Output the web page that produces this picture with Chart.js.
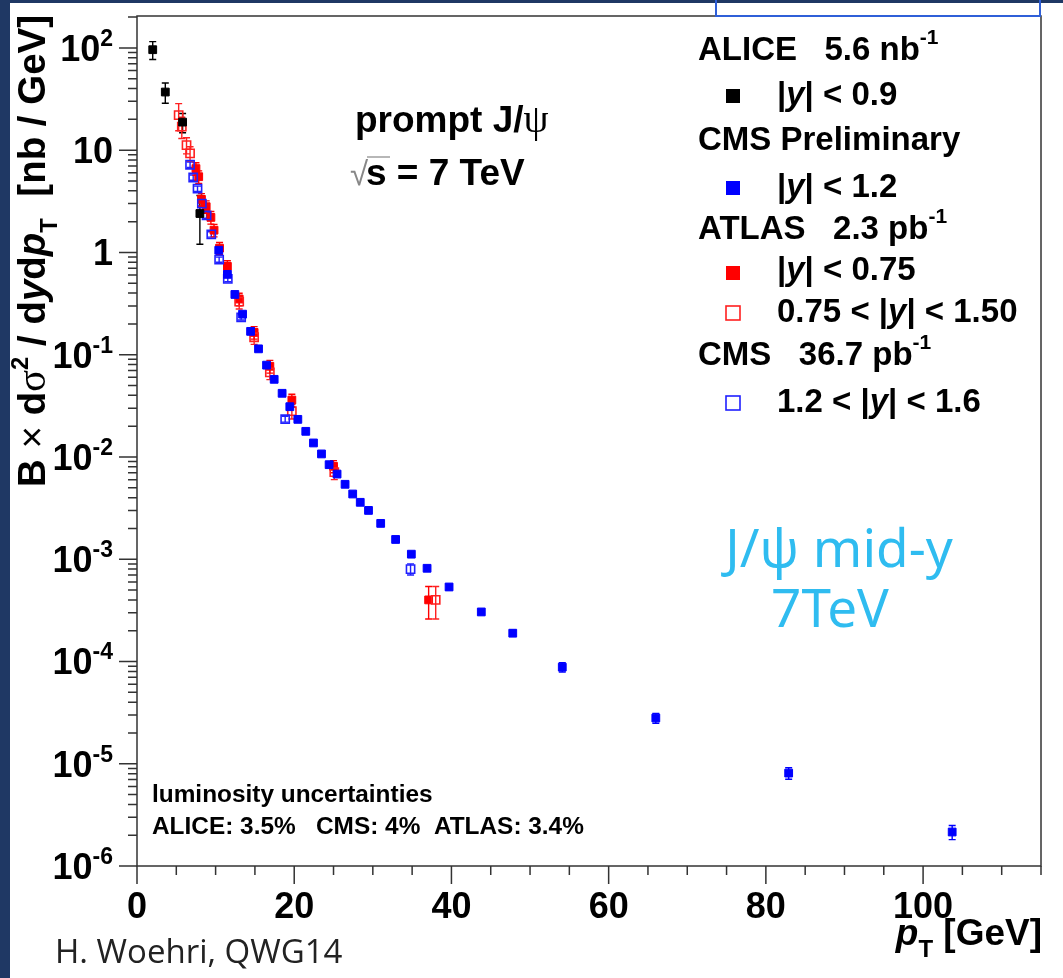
<!DOCTYPE html>
<html>
<head>
<meta charset="utf-8">
<script src="https://cdn.jsdelivr.net/npm/chart.js@4.4.1/dist/chart.umd.min.js"></script>
<style>
  html, body { margin: 0; padding: 0; background: #fff; }
  canvas { display: block; }
</style>
</head>
<body>
<canvas id="jpsiChart" width="1063" height="978"></canvas>
<script>
// ALICE 5.6 nb-1, |y| < 0.9
const alicePt = [2.0, 3.6, 5.8, 8.0];
const aliceVal = [96, 37, 18.8, 2.4];
const aliceErr = [19, 8.3, 4.0, 1.2];

// CMS Preliminary, |y| < 1.2
const cmsPrelimPt = [10.4, 11.5, 12.45, 13.43, 14.45, 15.46, 16.48, 17.45, 18.46, 19.44,
  20.46, 21.47, 22.45, 23.47, 24.44, 25.45, 26.47, 27.44, 28.4, 29.45,
  31.0, 32.9, 34.9, 36.9, 39.7, 43.8, 47.8, 54.1, 66.0, 82.9, 103.7];
const cmsPrelimVal = [1.05, 0.61, 0.388, 0.249, 0.169, 0.114, 0.079, 0.0574, 0.0419, 0.031,
  0.0233, 0.0178, 0.0137, 0.0107, 0.0084, 0.0068, 0.0054, 0.00434, 0.0036, 0.0030,
  0.00224, 0.00156, 0.00112, 0.000815, 0.000535, 0.000305, 0.000189, 8.8e-5, 2.8e-5, 8.1e-6, 2.15e-6];
const cmsPrelimErr = [0.042, 0.024, 0.016, 0.010, 0.0068, 0.0046, 0.0032, 0.0023, 0.0017, 0.0012,
  0.0009, 0.0007, 0.00055, 0.00043, 0.00034, 0.00027, 0.00022, 0.00017, 0.00014, 0.00012,
  0.00011, 0.00008, 0.000056, 0.00004, 0.000032, 0.000018, 0.000013, 0.9e-5, 0.31e-5, 1.05e-6, 0.34e-6];

// ATLAS 2.3 pb-1, |y| < 0.75
const atlasCentralPt = [7.5, 7.85, 8.2, 8.8, 9.4, 9.8, 10.5, 11.5, 13.0, 14.9, 16.9, 19.7, 25.0, 37.1];
const atlasCentralVal = [6.6, 5.5, 3.3, 2.8, 2.2, 1.65, 1.1, 0.73, 0.35, 0.165, 0.077, 0.036, 0.0081, 0.0004];
const atlasCentralErr = [0.92, 0.77, 0.46, 0.39, 0.31, 0.23, 0.15, 0.10, 0.049, 0.023, 0.011, 0.005, 0.0011, 0.00014];

// ATLAS 2.3 pb-1, 0.75 < |y| < 1.50
const atlasFwdPt = [5.3, 5.7, 6.3, 6.75, 13.0, 14.9, 16.9, 19.7, 25.1, 38.0];
const atlasFwdVal = [22, 17, 11.2, 9.3, 0.33, 0.148, 0.067, 0.028, 0.0071, 0.0004];
const atlasFwdErr = [6.5, 4.0, 2.0, 1.5, 0.05, 0.022, 0.01, 0.0045, 0.0011, 0.00014];

// CMS 36.7 pb-1, 1.2 < |y| < 1.6
const cmsFwdPt = [6.75, 7.15, 7.7, 8.25, 8.85, 9.45, 10.45, 11.55, 13.25, 18.85, 34.8];
const cmsFwdVal = [7.2, 5.4, 4.2, 3.0, 2.3, 1.5, 0.85, 0.55, 0.232, 0.0234, 0.0008];
const cmsFwdErr = [0.43, 0.32, 0.25, 0.18, 0.14, 0.09, 0.05, 0.033, 0.014, 0.0015, 0.0001];

const xTickLabels = [0, 20, 40, 60, 80, 100];
const yDecades = [-6, -5, -4, -3, -2, -1, 0, 1, 2];

const HV = '"Liberation Sans", Arial, sans-serif';
const B = (s) => `bold ${s}px ${HV}`;
const BI = (s) => `italic bold ${s}px ${HV}`;
const N = (s) => `${s}px ${HV}`;
const GR = (s) => `${s}px "Liberation Serif", serif`;

function pts(xs, ys) { return xs.map((v, i) => ({ x: v, y: ys[i] })); }

// draws a run of [text, font, dy, color] pieces
function rich(ctx, parts, x, y, align) {
  let w = 0;
  parts.forEach(p => { ctx.font = p[1]; w += ctx.measureText(p[0]).width; });
  let cx = align === 'right' ? x - w : align === 'center' ? x - w / 2 : x;
  parts.forEach(p => {
    ctx.font = p[1];
    if (p[3]) ctx.fillStyle = p[3];
    ctx.fillText(p[0], cx, y + (p[2] || 0));
    cx += ctx.measureText(p[0]).width;
  });
  return w;
}

function yLabel(s) { return [['|', B(s)], ['y', BI(s)], ['|', B(s)]]; }

const errorBars = {
  id: 'errorBars',
  beforeDatasetsDraw(chart) {
    const { ctx, chartArea: a, scales: { x, y } } = chart;
    ctx.save();
    ctx.beginPath();
    ctx.rect(a.left, a.top, a.right - a.left, a.bottom - a.top);
    ctx.clip();
    chart.data.datasets.forEach(ds => {
      ctx.strokeStyle = ds.borderColor;
      ctx.lineWidth = 1.4;
      ds.data.forEach((p, i) => {
        const e = ds.errs[i];
        const px = x.getPixelForValue(p.x);
        const top = y.getPixelForValue(p.y + e);
        const bot = y.getPixelForValue(Math.max(p.y - e, 1e-9));
        ctx.beginPath();
        ctx.moveTo(px, top); ctx.lineTo(px, bot);
        ctx.moveTo(px - 3.5, top); ctx.lineTo(px + 3.5, top);
        ctx.moveTo(px - 3.5, bot); ctx.lineTo(px + 3.5, bot);
        ctx.stroke();
      });
    });
    ctx.restore();
  }
};

function legendMark(ctx, cx, cy, color, open) {
  const s = 14;
  if (open) {
    ctx.strokeStyle = color; ctx.lineWidth = 1.6;
    ctx.strokeRect(cx - s / 2, cy - s / 2, s, s);
  } else {
    ctx.fillStyle = color;
    ctx.fillRect(cx - s / 2, cy - s / 2, s, s);
  }
}

const rootFrame = {
  id: 'rootFrame',
  afterDraw(chart) {
    const { ctx, chartArea: a, scales: { x, y } } = chart;
    ctx.save();
    ctx.textBaseline = 'alphabetic';

    // frame + ticks
    ctx.strokeStyle = '#333';
    ctx.lineWidth = 1.5;
    ctx.strokeRect(a.left, a.top, a.right - a.left, a.bottom - a.top);
    ctx.beginPath();
    for (let v = 0; v <= 115; v += 5) {
      const px = x.getPixelForValue(v);
      ctx.moveTo(px, a.bottom);
      ctx.lineTo(px, a.bottom + (v % 20 === 0 ? 18 : 9));
    }
    yDecades.forEach(e => {
      for (let m = 1; m <= 9; m++) {
        const v = m * Math.pow(10, e);
        if (v > y.max) break;
        const py = y.getPixelForValue(v);
        ctx.moveTo(a.left, py);
        ctx.lineTo(a.left - (m === 1 ? 18 : 9), py);
      }
    });
    ctx.stroke();

    // tick labels
    ctx.fillStyle = '#000';
    yDecades.forEach(e => {
      const py = y.getPixelForValue(Math.pow(10, e));
      let parts;
      if (e === 0) parts = [['1', B(36)]];
      else if (e === 1) parts = [['10', B(36)]];
      else parts = [['10', B(36)], [String(e), B(23), -15]];
      rich(ctx, parts, 113, py + 13, 'right');
    });
    ctx.textAlign = 'center';
    ctx.font = B(36);
    xTickLabels.forEach(v => ctx.fillText(String(v), x.getPixelForValue(v), 918));
    ctx.textAlign = 'left';

    // axis titles
    rich(ctx, [['p', BI(37)], ['T', B(24), 12], [' [GeV]', B(37)]], 1042, 945, 'right');
    const ts = 38.5;
    const yTitle = [['B', B(ts)], [' \u00d7 ', N(ts)], ['d', B(ts)], ['\u03c3', GR(ts + 2)], ['2', B(ts * 0.62), -ts * 0.45],
      [' / d', B(ts)], ['y', BI(ts)], ['d', B(ts)], ['p', BI(ts)], ['T', B(ts * 0.62), ts * 0.3],
      ['  [nb / GeV]', B(ts)]];
    ctx.save();
    ctx.translate(45, 487);
    ctx.rotate(-Math.PI / 2);
    rich(ctx, yTitle, 0, 0, 'left');
    ctx.restore();

    // text in the pad
    rich(ctx, [['prompt J/', B(37)], ['\u03c8', GR(40)]], 355, 132, 'left');
    ctx.fillStyle = '#888';
    ctx.font = N(33);
    ctx.fillText('\u221a', 350, 185);
    ctx.strokeStyle = '#888'; ctx.lineWidth = 1.2;
    ctx.beginPath(); ctx.moveTo(367, 157); ctx.lineTo(390, 157); ctx.stroke();
    ctx.fillStyle = '#000';
    ctx.font = B(37);
    ctx.fillText('s = 7 TeV', 366, 185);

    ctx.font = B(24.4);
    ctx.fillText('luminosity uncertainties', 152, 802);
    ctx.fillText('ALICE: 3.5%   CMS: 4%  ATLAS: 3.4%', 152, 834);

    // legend
    const lx = 698, mx = 733, tx = 777, fs = 33;
    rich(ctx, [['ALICE   5.6 nb', B(fs)], ['-1', B(21), -16]], lx, 60, 'left');
    legendMark(ctx, mx, 96, '#000', false);
    rich(ctx, yLabel(fs).concat([[' < 0.9', B(fs)]]), tx, 105, 'left');
    rich(ctx, [['CMS Preliminary', B(fs)]], lx, 150, 'left');
    legendMark(ctx, mx, 188, '#0000ff', false);
    ctx.fillStyle = '#000';
    rich(ctx, yLabel(fs).concat([[' < 1.2', B(fs)]]), tx, 197, 'left');
    rich(ctx, [['ATLAS   2.3 pb', B(fs)], ['-1', B(21), -16]], lx, 239, 'left');
    legendMark(ctx, mx, 273, '#ff0000', false);
    ctx.fillStyle = '#000';
    rich(ctx, yLabel(fs).concat([[' < 0.75', B(fs)]]), tx, 280, 'left');
    legendMark(ctx, mx, 313, '#ff2020', true);
    rich(ctx, [['0.75 < ', B(fs)]].concat(yLabel(fs), [[' < 1.50', B(fs)]]), tx, 322, 'left');
    rich(ctx, [['CMS   36.7 pb', B(fs)], ['-1', B(21), -16]], lx, 365, 'left');
    legendMark(ctx, mx, 403, '#2020ff', true);
    rich(ctx, [['1.2 < ', B(fs)]].concat(yLabel(fs), [[' < 1.6', B(fs)]]), tx, 412, 'left');

    // slide decoration
    ctx.fillStyle = '#1f3864';
    ctx.fillRect(0, 0, 10, 978);
    ctx.fillRect(0, 0, 1063, 3);
    ctx.strokeStyle = '#2f5fd8'; ctx.lineWidth = 2;
    ctx.strokeRect(716, -2, 324, 18);

    ctx.fillStyle = '#2fbcf0';
    ctx.font = '53px "Noto Sans", sans-serif';
    ctx.textAlign = 'center';
    ctx.fillText('J/\u03c8 mid-y', 839, 567);
    ctx.fillText('7TeV', 830, 627);
    ctx.textAlign = 'left';
    ctx.fillStyle = '#222';
    ctx.font = '33px "Open Sans", sans-serif';
    ctx.fillText('H. Woehri, QWG14', 55, 963);
    ctx.restore();
  }
};

const filledOpts = (c) => ({ pointStyle: 'rect', pointRadius: 5.5, backgroundColor: c, borderColor: c, borderWidth: 1 });
const openOpts = (c) => ({ pointStyle: 'rect', pointRadius: 5.8, backgroundColor: 'rgba(0,0,0,0)', borderColor: c, borderWidth: 1.6 });

new Chart(document.getElementById('jpsiChart'), {
  type: 'scatter',
  data: {
    datasets: [
      Object.assign({ label: 'ALICE |y|<0.9', data: pts(alicePt, aliceVal), errs: aliceErr }, filledOpts('#000000')),
      Object.assign({ label: 'CMS Preliminary |y|<1.2', data: pts(cmsPrelimPt, cmsPrelimVal), errs: cmsPrelimErr }, filledOpts('#0000ff')),
      Object.assign({ label: 'CMS 1.2<|y|<1.6', data: pts(cmsFwdPt, cmsFwdVal), errs: cmsFwdErr }, openOpts('#2020ff')),
      Object.assign({ label: 'ATLAS 0.75<|y|<1.50', data: pts(atlasFwdPt, atlasFwdVal), errs: atlasFwdErr }, openOpts('#ff2020')),
      Object.assign({ label: 'ATLAS |y|<0.75', data: pts(atlasCentralPt, atlasCentralVal), errs: atlasCentralErr }, filledOpts('#ff0000'))
    ]
  },
  options: {
    responsive: false,
    animation: false,
    devicePixelRatio: 1,
    layout: { padding: { left: 137, top: 16, right: 22, bottom: 112 } },
    plugins: { legend: { display: false }, tooltip: { enabled: false } },
    scales: {
      x: { type: 'linear', min: 0, max: 115, display: false },
      y: { type: 'logarithmic', min: 1e-6, max: 205, display: false }
    }
  },
  plugins: [errorBars, rootFrame]
});
</script>
</body>
</html>
